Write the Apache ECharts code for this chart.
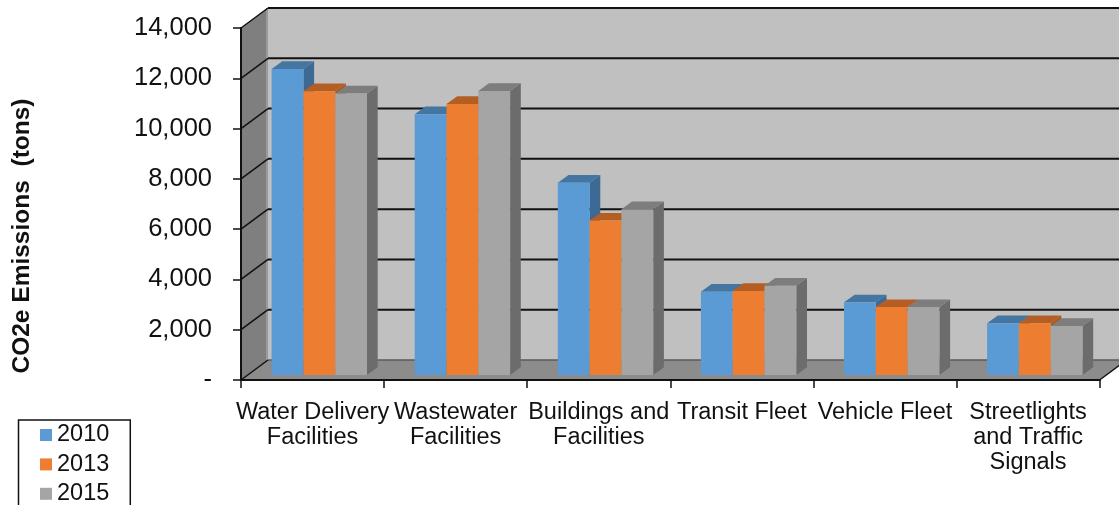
<!DOCTYPE html>
<html><head><meta charset="utf-8">
<style>html,body{margin:0;padding:0;background:#fff;overflow:hidden}#c{width:1119px;height:505px}</style>
<script src="https://cdn.jsdelivr.net/npm/echarts@6/dist/echarts.min.js"></script>
</head><body><div id="c"></div>
<script>
const categories = ['Water Delivery\nFacilities','Wastewater\nFacilities','Buildings and\nFacilities','Transit Fleet','Vehicle Fleet','Streetlights\nand Traffic\nSignals'];
const years = ['2010','2013','2015'];
const values2010 = [12170,10370,7650,3310,2890,2060];
const values2013 = [11290,10780,6140,3340,2700,2060];
const values2015 = [11200,11300,6590,3550,2700,1950];
const yTicks = [0,2000,4000,6000,8000,10000,12000,14000];

const DEPTH_X = 27, DEPTH_Y = 20;        // wall depth
const BAR_DX = 6.75, BAR_DY = 5;         // bars' front plane
const SIDE_X = 10.7, SIDE_Y = 7.7;       // bar depth
const poly = (pts, fill) => ({type:'polygon', shape:{points:pts}, style:{fill}});
const seg = (a, b, stroke, w) => ({type:'line', shape:{x1:a[0],y1:a[1],x2:b[0],y2:b[1]}, style:{stroke, lineWidth:w}});

function renderWall(params, api){
  const g = params.coordSys, v = api.value(1), y = api.coord([0, v])[1];
  const L = g.x, R = g.x + g.width, kids = [];
  if (v === 0) {
    const top = g.y;
    kids.push(poly([[L+DEPTH_X,top-DEPTH_Y],[R+DEPTH_X,top-DEPTH_Y],[R+DEPTH_X,y-DEPTH_Y],[L+DEPTH_X,y-DEPTH_Y]],'#c0c0c0'));
    kids.push(poly([[L,top],[L+DEPTH_X,top-DEPTH_Y],[L+DEPTH_X,y-DEPTH_Y],[L,y]],'#7f7f7f'));
    kids.push(poly([[L,y],[R,y],[R+DEPTH_X,y-DEPTH_Y],[L+DEPTH_X,y-DEPTH_Y]],'#8c8c8c'));
    kids.push(seg([L+DEPTH_X-1,top-DEPTH_Y],[L+DEPTH_X-1,y-DEPTH_Y],'#9a9a9a',2));
    kids.push(seg([R,y],[R+DEPTH_X,y-DEPTH_Y],'#111',1.5));
  }
  const back = v === 0 ? '#5a5a5a' : '#111';
  kids.push(seg([L+DEPTH_X,y-DEPTH_Y],[R+DEPTH_X,y-DEPTH_Y],back,v === 0 ? 1.5 : 2));
  kids.push(seg([L,y],[L+DEPTH_X,y-DEPTH_Y],'#111',1.5));
  return {type:'group', children:kids};
}
const shades = [
  {front:'#5b9bd5', top:'#4575a1', side:'#3c6a95'},
  {front:'#ed7d31', top:'#b45e24', side:'#a95820'},
  {front:'#a5a5a5', top:'#7d7d7d', side:'#6c6c6c'}
];
function barRenderer(k){
  return function(params, api){
    const i = api.value(0), v = api.value(1);
    const bw = api.size([1,0])[0] / 4.5;
    const c = api.coord([i, v]), b = api.coord([i, 0]);
    const x0 = c[0] + BAR_DX + (k - 1.5) * bw, x1 = x0 + bw;
    const yT = c[1] - BAR_DY, yB = b[1] - BAR_DY;
    const s = shades[k];
    return {type:'group', children:[
      poly([[x1,yT],[x1+SIDE_X,yT-SIDE_Y],[x1+SIDE_X,yB-SIDE_Y],[x1,yB]], s.side),
      poly([[x0,yT],[x0+SIDE_X,yT-SIDE_Y],[x1+SIDE_X,yT-SIDE_Y],[x1,yT]], s.top),
      poly([[x0,yT],[x1,yT],[x1,yB],[x0,yB]], s.front)
    ]};
  };
}
const font = '"Liberation Sans", Arial, sans-serif';
const all = [values2010, values2013, values2015];
const chart = echarts.init(document.getElementById('c'), null, {renderer:'canvas'});
chart.setOption({
  animation:false,
  backgroundColor:'#fff',
  grid:{left:241, right:19.4, top:28, bottom:125, containLabel:false},
  legend:{
    data:years, orient:'vertical', left:18.5, top:420, height:120, width:80, padding:[3,21,30,21.5],
    borderColor:'#111', borderWidth:1.5, itemWidth:12, itemHeight:12, itemGap:5.4,
    icon:'rect', textStyle:{fontFamily:font, fontSize:23.5, color:'#111'}
  },
  xAxis:{type:'category', data:categories, z:3,
    axisLine:{lineStyle:{color:'#111', width:2}},
    axisTick:{show:true, alignWithLabel:false, length:8, lineStyle:{color:'#111', width:1.5}},
    axisLabel:{interval:0, fontFamily:font, fontSize:23.5, color:'#111', lineHeight:25, margin:20, hideOverlap:false},
    splitLine:{show:false}
  },
  yAxis:{type:'value', min:0, max:14000, interval:2000, z:3,
    name:'CO2e Emissions  (tons)', nameLocation:'middle', nameGap:206, nameRotate:90,
    nameTextStyle:{fontFamily:font, fontSize:24.5, fontWeight:'bold', color:'#111', padding:[0,64,0,0]},
    axisLine:{show:true, lineStyle:{color:'#111', width:2}},
    axisTick:{show:true, length:8, lineStyle:{color:'#111', width:1.5}},
    axisLabel:{fontFamily:font, fontSize:25.5, color:'#111', margin:29, padding:[2,0,0,0],
      formatter:v => v === 0 ? '-' : v.toString().replace(/\B(?=(\d{3})+$)/g, ',')},
    splitLine:{show:false}
  },
  series:[
    {type:'custom', name:'walls', z:1, silent:true, clip:false, renderItem:renderWall,
      data:yTicks.map(t => [0,t]), encode:{x:0,y:1}},
    ...years.map((y,k) => ({type:'custom', name:y, z:2, clip:false, renderItem:barRenderer(k),
      itemStyle:{color:shades[k].front},
      data:all[k].map((v,i) => [i,v]), encode:{x:0,y:1}}))
  ]
});
</script></body></html>
